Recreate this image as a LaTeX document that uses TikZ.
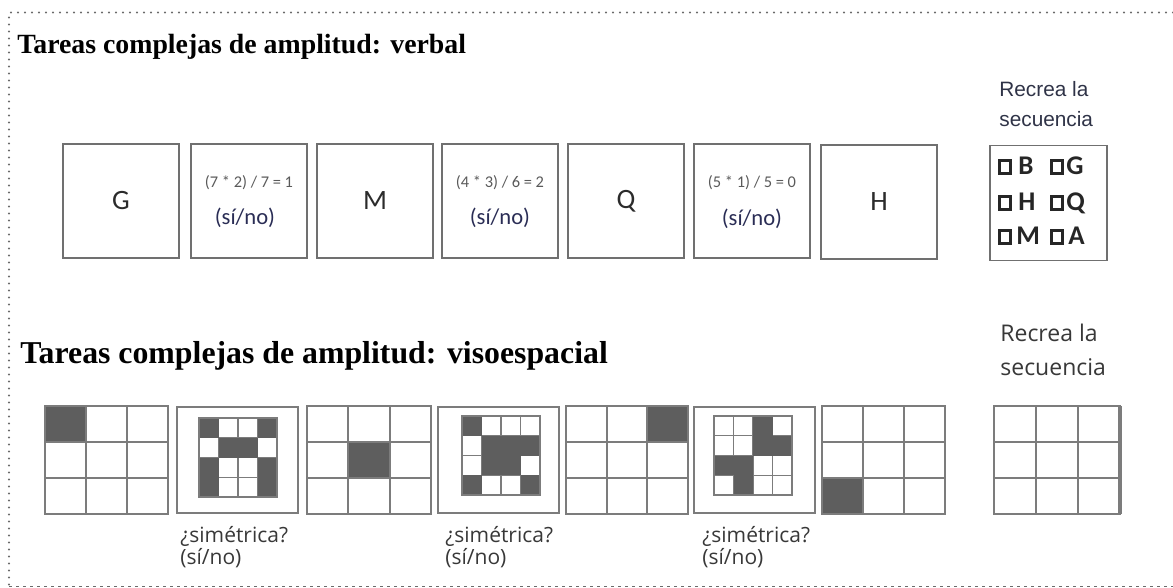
\documentclass[tikz,border=0pt]{standalone}
\usepackage{fontspec}
\setmainfont{Liberation Serif}
\newfontfamily\calibfont{Carlito}
\newfontfamily\segfont{Open Sans}
\newfontfamily\arialfont{Liberation Sans}

\definecolor{framegray}{HTML}{6A6A6A}
\definecolor{boxgray}{HTML}{707070}
\definecolor{linegray}{HTML}{7C7C7C}
\definecolor{cellfill}{HTML}{5E5E5E}
\definecolor{inkdark}{HTML}{2B2B2B}
\definecolor{eqgray}{HTML}{5A5A5A}
\definecolor{navyink}{HTML}{2A2D55}
\definecolor{slateink}{HTML}{2F3347}
\definecolor{labelink}{HTML}{383838}

\tikzset{
  frameline/.style={framegray, line width=1.1pt, line cap=round, dash pattern=on 0pt off 3.5pt},
  framebottom/.style={framegray, line width=0.6pt, dash pattern=on 1.5pt off 2pt},
  titleA/.style={anchor=base west, inner sep=0pt, font=\fontsize{13.9}{16}\selectfont\bfseries},
  titleB/.style={anchor=base west, inner sep=0pt, font=\fontsize{15.9}{18}\selectfont\bfseries},
  tbox/.style={draw=boxgray, line width=0.9pt, minimum width=58pt, minimum height=57pt,
               inner sep=0pt, text=inkdark, font=\calibfont\fontsize{14}{16}\selectfont},
  eqtext/.style={inner sep=0pt, text=eqgray, font=\calibfont\fontsize{8.2}{10}\selectfont},
  sino/.style={inner sep=0pt, text=navyink, font=\calibfont\fontsize{11.3}{13}\selectfont},
  recA/.style={anchor=base west, inner sep=0pt, text=slateink, font=\arialfont\fontsize{10.4}{12}\selectfont},
  recB/.style={anchor=base west, inner sep=0pt, text=labelink, font=\segfont\fontsize{11.5}{13}\selectfont},
  chk/.style={draw=black!85, line width=1.4pt, minimum width=5.2pt, minimum height=6.2pt, inner sep=0pt},
  chkletter/.style={anchor=base west, inner sep=0pt, text=black!85, font=\calibfont\bfseries\fontsize{13.5}{15}\selectfont},
  gridline/.style={linegray, line width=1pt},
  patline/.style={linegray, line width=0.7pt},
  sbox/.style={draw=linegray, line width=1pt, minimum width=60.5pt, minimum height=53pt, inner sep=0pt},
  symlabel/.style={anchor=base west, inner sep=0pt, text=labelink, font=\segfont\fontsize{10.5}{12}\selectfont},
}

% 3x3 answer grid: left, top, width, height
\newcommand\threegrid[4]{%
  \foreach \k in {1,2}{
    \draw[gridline] ({#1+\k*#3/3},#2) -- ++(0,#4);
    \draw[gridline] (#1,{#2+\k*#4/3}) -- ++(#3,0);
  }
  \draw[gridline] (#1,#2) rectangle ++(#3,#4);
}
% one shaded square of a 3x3 grid: left, top, width, height, column, row
\newcommand\shadecell[6]{%
  \fill[cellfill] ({#1+#5*#3/3},{#2+#6*#4/3}) rectangle ++({#3/3},{#4/3});
}
% 4x4 symmetry pattern: left, top, list of shaded column/row pairs
\newcommand\sympattern[3]{%
  \foreach \k in {1,2,3}{
    \draw[patline] ({#1+\k*19.5},#2) -- ++(0,79);
    \draw[patline] (#1,{#2+\k*19.75}) -- ++(78,0);
  }
  \foreach \pc/\pr in {#3}{
    \fill[cellfill] ({#1+\pc*19.5},{#2+\pr*19.75}) rectangle ++(19.5,19.75);
  }
  \draw[patline] (#1,#2) rectangle ++(78,79);
}

\begin{document}
\begin{tikzpicture}[x=0.5pt,y=-0.5pt]
\useasboundingbox (0,0) rectangle (1173,588);

% outer frame
\draw[frameline] (1173,12.5) -- (9,12.5) -- (9,585);
\draw[framebottom] (9,586.5) -- (1173,586.5);

% headings
\node[titleA] (t1) at (17,54) {Tareas complejas de amplitud: verbal};
\node[titleB] (t2) at (20,364) {Tareas complejas de amplitud: visoespacial};

% verbal sequence
\node[tbox] (b1) at (121,201) {G};
\node[tbox] (b2) at (249,201) {};
\node[eqtext] (e2) at (249,183) {(7 * 2) / 7 = 1};
\node[sino] (s2) at (245,218) {(sí/no)};
\node[tbox] (b3) at (375,201) {M};
\node[tbox] (b4) at (500,201) {};
\node[eqtext] (e4) at (500,183) {(4 * 3) / 6 = 2};
\node[sino] (s4) at (500,218) {(sí/no)};
\node[tbox] (b5) at (626,201) {Q};
\node[tbox] (b6) at (752,201) {};
\node[eqtext] (e6) at (752,183) {(5 * 1) / 5 = 0};
\node[sino] (s6) at (752,219) {(sí/no)};
\node[tbox] (b7) at (879,202) {H};

% verbal recall
\node[recA] (ra1) at (999,97) {Recrea la};
\node[recA] (ra2) at (999,127) {secuencia};
\node[tbox, minimum width=58.5pt, minimum height=57.5pt] (rb) at (1048.5,203) {};
\node[chk] (k1) at (1005,167) {};
\node[chkletter] (m1) at (1018,175) {B};
\node[chk] (k2) at (1057,167) {};
\node[chkletter] (m2) at (1066,175) {G};
\node[chk] (k3) at (1005,203) {};
\node[chkletter] (m3) at (1018,211) {H};
\node[chk] (k4) at (1057,203) {};
\node[chkletter] (m4) at (1066,211) {Q};
\node[chk] (k5) at (1005,237) {};
\node[chkletter] (m5) at (1016,245) {M};
\node[chk] (k6) at (1057,237) {};
\node[chkletter] (m6) at (1068,245) {A};

% visuospatial sequence
\shadecell{45}{406}{123}{108}{0}{0}
\threegrid{45}{406}{123}{108}

\node[sbox] (sy1) at (237.5,460) {};
\sympattern{199}{418}{0/0,3/0,1/1,2/1,0/2,3/2,0/3,3/3}
\node[symlabel] (q1) at (180,542) {¿simétrica?};
\node[symlabel] (a1) at (180,564) {(sí/no)};

\shadecell{307}{406}{124}{108}{1}{1}
\threegrid{307}{406}{124}{108}

\node[sbox] (sy2) at (498.5,460) {};
\sympattern{462}{416}{0/0,1/1,2/1,3/1,1/2,2/2,0/3,3/3}
\node[symlabel] (q2) at (445,542) {¿simétrica?};
\node[symlabel] (a2) at (445,564) {(sí/no)};

\shadecell{566}{406}{122}{108}{2}{0}
\threegrid{566}{406}{122}{108}

\node[sbox] (sy3) at (754,460) {};
\sympattern{714}{416}{2/0,2/1,3/1,0/2,1/2,1/3}
\node[symlabel] (q3) at (702,542) {¿simétrica?};
\node[symlabel] (a3) at (702,564) {(sí/no)};

\shadecell{822}{406}{123}{108}{0}{2}
\threegrid{822}{406}{123}{108}

% visuospatial recall
\node[recB] (rb1) at (1000,342) {Recrea la};
\node[recB] (rb2) at (1000,375) {secuencia};
\threegrid{994}{406}{126}{108}
\draw[linegray, line width=1.6pt] (1120,406) -- (1120,514);
\end{tikzpicture}
\end{document}
